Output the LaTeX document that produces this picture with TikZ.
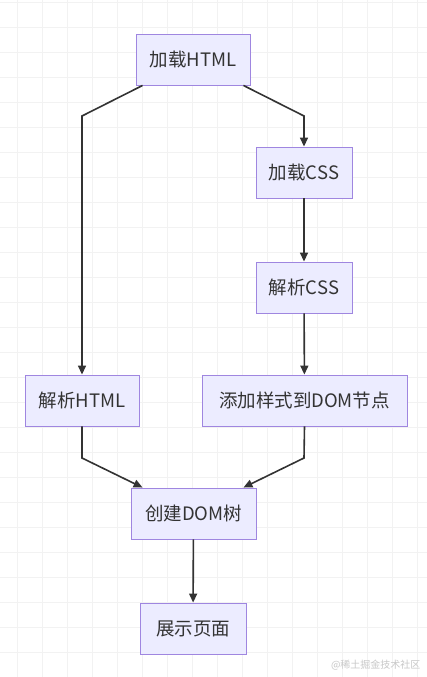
\documentclass[tikz,border=0pt]{standalone}
\usepackage{fontspec}
\setmainfont{Noto Sans CJK SC}
\usetikzlibrary{arrows.meta}
\definecolor{boxfill}{HTML}{ECECFF}
\definecolor{boxborder}{HTML}{9F86E0}
\definecolor{darkline}{HTML}{333333}
\definecolor{gridline}{HTML}{F2F2F2}
\definecolor{marktext}{HTML}{C8C8C8}
\tikzset{
  stepbox/.style={rectangle, draw=boxborder, fill=boxfill, line width=0.9pt,
                  minimum height=51pt, inner sep=0pt, text=darkline,
                  font=\fontsize{18.5}{22}\selectfont},
  flow/.style={-{Triangle[length=9pt, width=8pt]}, line width=1.6pt, draw=darkline},
}

\begin{document}
\begin{tikzpicture}[x=1pt, y=-1pt]

% Canvas and grid
\useasboundingbox (0,0) rectangle (427,677);
\fill[white] (0,0) rectangle (427,677);
\foreach \gx in {17,42,...,417}
  \draw[gridline, line width=0.8pt] (\gx,0) -- (\gx,677);
\foreach \gy in {2,27,...,677}
  \draw[gridline, line width=0.8pt] (0,\gy) -- (427,\gy);

% Steps
\node[stepbox, minimum width=114pt] (loadhtml)  at (193,59.5)  {加载HTML};
\node[stepbox, minimum width=96pt]  (loadcss)   at (304,172.5) {加载CSS};
\node[stepbox, minimum width=96pt]  (parsecss)  at (304,287.5) {解析CSS};
\node[stepbox, minimum width=114pt] (parsehtml) at (82,400.5)  {解析HTML};
\node[stepbox, minimum width=205pt] (addstyle)  at (304.5,400.5) {添加样式到DOM节点};
\node[stepbox, minimum width=125pt] (domtree)   at (193.5,513.5) {创建DOM树};
\node[stepbox, minimum width=106pt] (showpage)  at (193,628.5) {展示页面};

% Bend points
\coordinate (bendL)  at (82,116);
\coordinate (bendR)  at (304,116);
\coordinate (joinL)  at (82,458);
\coordinate (joinR)  at (304,458);

% Flow
\draw[flow] ([xshift=7pt]loadhtml.south west) -- (bendL) -- (parsehtml.north);
\draw[flow] ([xshift=-7pt]loadhtml.south east) -- (bendR) -- (loadcss.north);
\draw[flow] (loadcss) -- (parsecss);
\draw[flow] (parsecss) -- (addstyle);
\draw[flow] (parsehtml.south) -- (joinL) -- ([xshift=12pt]domtree.north west);
\draw[flow] (addstyle.south) -- (joinR) -- ([xshift=-13pt]domtree.north east);
\draw[flow] (domtree) -- (showpage);

% Watermark
\node[text=marktext, font=\fontsize{10}{12}\selectfont, anchor=east] (mark)
  at (424,665) {@稀土掘金技术社区};

\end{tikzpicture}
\end{document}
